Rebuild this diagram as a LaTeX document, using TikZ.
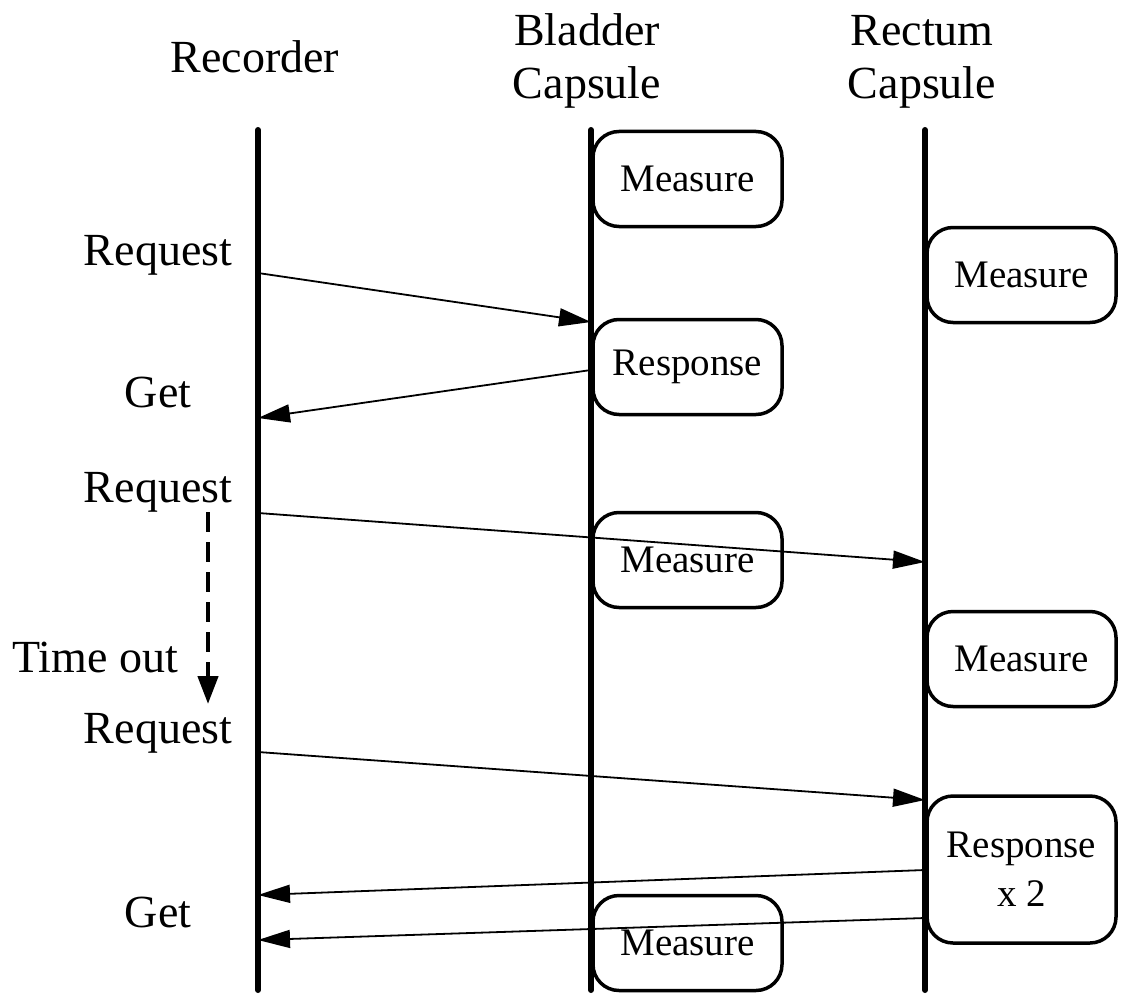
\documentclass[tikz,border=0pt]{standalone}
\usepackage{fontspec}
\setmainfont{Liberation Serif}
\usetikzlibrary{arrows.meta}
\tikzset{
  lifeline/.style={line width=6pt, line cap=round},
  actbox/.style={draw, line width=3.5pt, rounded corners=26pt, fill=white,
    minimum width=189pt, minimum height=95pt, inner sep=0pt, align=center,
    font=\fontsize{39}{49}\selectfont},
  msg/.style={line width=1.8pt, -{Triangle[length=32pt,width=18pt]}},
  biglabel/.style={font=\fontsize{46}{52}\selectfont, anchor=base, inner sep=0pt},
  timeout/.style={line width=4.5pt, dash pattern=on 20pt off 10pt,
    -{Triangle[length=28pt,width=20pt]}}
}
\begin{document}
\begin{tikzpicture}[x=1pt,y=-1pt]
\useasboundingbox (0,0) rectangle (1123,995);

% headings
\node[biglabel] (hrec) at (255,73) {Recorder};
\node[biglabel] (hbl1) at (587,46) {Bladder};
\node[biglabel] (hbl2) at (587,99) {Capsule};
\node[biglabel] (hre1) at (922,46) {Rectum};
\node[biglabel] (hre2) at (922,99) {Capsule};

% lifelines
\coordinate (rtop) at (258,130); \coordinate (rbot) at (258,990);
\coordinate (btop) at (591,130); \coordinate (bbot) at (591,990);
\coordinate (ctop) at (925,130); \coordinate (cbot) at (925,990);
\draw[lifeline] (rtop) -- (rbot);
\draw[lifeline] (btop) -- (bbot);
\draw[lifeline] (ctop) -- (cbot);

% activity boxes on the bladder capsule
\node[actbox] (bm1) at (687.5,179) {Measure};
\node[actbox] (bresp) at (687.5,367) {Response};
% activity boxes on the rectum capsule
\node[actbox] (cm1) at (1021.5,275) {Measure};
\node[actbox] (cm2) at (1021.5,659) {Measure};
\node[actbox, minimum height=147pt] (cresp) at (1021.5,869.5) {Response\\x 2};

% message end points on the lifelines
\coordinate (r1) at (258,273); \coordinate (b1) at (591,322);
\coordinate (b2) at (591,370); \coordinate (r2) at (258,418);
\coordinate (r3) at (258,513); \coordinate (c3) at (925,562);
\coordinate (r4) at (258,752); \coordinate (c4) at (925,800);
\coordinate (c5) at (925,870); \coordinate (r5) at (258,895);
\coordinate (c6) at (925,918); \coordinate (r6) at (258,940);

\draw[msg] (r1) -- (b1);
\draw[msg] (b2) -- (r2);
\draw[msg] (r3) -- (c3);
\node[actbox, fill=none] (bm2) at (687.5,560) {Measure};
\draw[msg] (r4) -- (c4);
\draw[msg] (c5) -- (r5);
\draw[msg] (c6) -- (r6);
\node[actbox, fill=none] (bm3) at (687.5,943) {Measure};

% recorder side labels
\node[biglabel] (lreq1) at (158,265) {Request};
\node[biglabel] (lget1) at (158,407) {Get};
\node[biglabel] (lreq2) at (158,502) {Request};
\node[biglabel] (ltime) at (95,672) {Time out};
\node[biglabel] (lreq3) at (158,743) {Request};
\node[biglabel] (lget2) at (158,927) {Get};

% time-out interval
\coordinate (tstart) at (208,512);
\coordinate (tend) at (208,704);
\draw[timeout] (tstart) -- (tend);
\end{tikzpicture}
\end{document}
